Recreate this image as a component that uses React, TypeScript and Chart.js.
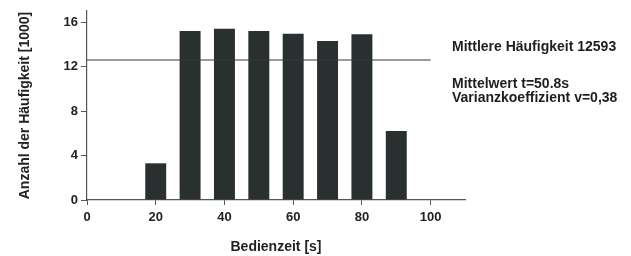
import React, { useEffect, useRef } from "react";
import { Chart, registerables } from "chart.js";

Chart.register(...registerables);

const times = [20, 30, 40, 50, 60, 70, 80, 90];
const counts = [3.3, 15.2, 15.4, 15.2, 14.95, 14.3, 14.9, 6.2];
const meanCount = 12.593;
const meanLineX = [0, 100];
const xTicks = [0, 20, 40, 60, 80, 100];
const yTicks = [0, 4, 8, 12, 16];
const infoLines = [
  "Mittlere Häufigkeit 12593",
  "Mittelwert t=50.8s",
  "Varianzkoeffizient v=0,38",
];

const FONT = "'Liberation Sans', Arial, sans-serif";

const infoPlugin = {
  id: "infoText",
  afterDraw(chart: any) {
    const ctx = chart.ctx;
    ctx.save();
    ctx.fillStyle = "#1e1e1e";
    ctx.font = `bold 14px ${FONT}`;
    ctx.textAlign = "left";
    ctx.textBaseline = "alphabetic";
    ctx.fillText(infoLines[0], 452, 51);
    ctx.fillText(infoLines[1], 452, 88);
    ctx.fillText(infoLines[2], 452, 102);
    ctx.restore();
  },
};

export default function App() {
  const ref = useRef<HTMLCanvasElement>(null);
  useEffect(() => {
    if (!ref.current) return;
    const chart = new Chart(ref.current, {
      type: "bar",
      data: {
        datasets: [
          {
            type: "line",
            data: meanLineX.map((x) => ({ x, y: meanCount })),
            borderColor: "#3a3a3a",
            borderWidth: 1.2,
            pointRadius: 0,
            order: 0,
          } as any,
          {
            type: "bar",
            data: times.map((t, i) => ({ x: t, y: counts[i] })),
            backgroundColor: "#2a302f",
            borderWidth: 0,
            barPercentage: 0.61,
            categoryPercentage: 1,
            order: 1,
          } as any,
        ],
      },
      options: {
        responsive: false,
        animation: false,
        layout: { padding: { top: 11, right: 166, left: 0, bottom: 0 } },
        plugins: {
          legend: { display: false },
          tooltip: { enabled: false },
        },
        scales: {
          x: {
            type: "linear",
            offset: false,
            min: 0,
            max: 110,
            afterBuildTicks: (s: any) => {
              s.ticks = xTicks.map((v) => ({ value: v }));
            },
            afterFit: (s: any) => {
              s.height = 56;
            },
            ticks: {
              color: "#222",
              font: { family: FONT, size: 13, weight: "bold" },
              padding: 5,
              maxRotation: 0,
            },
            grid: {
              offset: false,
              drawOnChartArea: false,
              tickLength: 5,
              color: "#555",
            },
            border: { color: "#555", width: 1.2 },
            title: {
              display: true,
              text: "Bedienzeit [s]",
              color: "#222",
              font: { family: FONT, size: 14, weight: "bold" },
              padding: { top: 0, bottom: 0 },
            },
          },
          y: {
            min: 0,
            max: 17,
            afterBuildTicks: (s: any) => {
              s.ticks = yTicks.map((v) => ({ value: v }));
            },
            afterFit: (s: any) => {
              s.width = 87;
            },
            ticks: {
              color: "#222",
              font: { family: FONT, size: 13, weight: "bold" },
              padding: 3,
            },
            grid: {
              drawOnChartArea: false,
              tickLength: 6,
              color: "#555",
            },
            border: { color: "#555", width: 1.2 },
            title: {
              display: true,
              text: "Anzahl der Häufigkeit [1000]",
              color: "#222",
              font: { family: FONT, size: 14, weight: "bold" },
              padding: { top: 17, bottom: 0 },
            },
          },
        },
      },
      plugins: [infoPlugin],
    });
    return () => chart.destroy();
  }, []);
  return (
    <div
      style={{
        position: "fixed",
        left: 0,
        top: 0,
        width: 631,
        height: 256,
        background: "#fff",
      }}
    >
      <canvas ref={ref} width={631} height={256} />
    </div>
  );
}
